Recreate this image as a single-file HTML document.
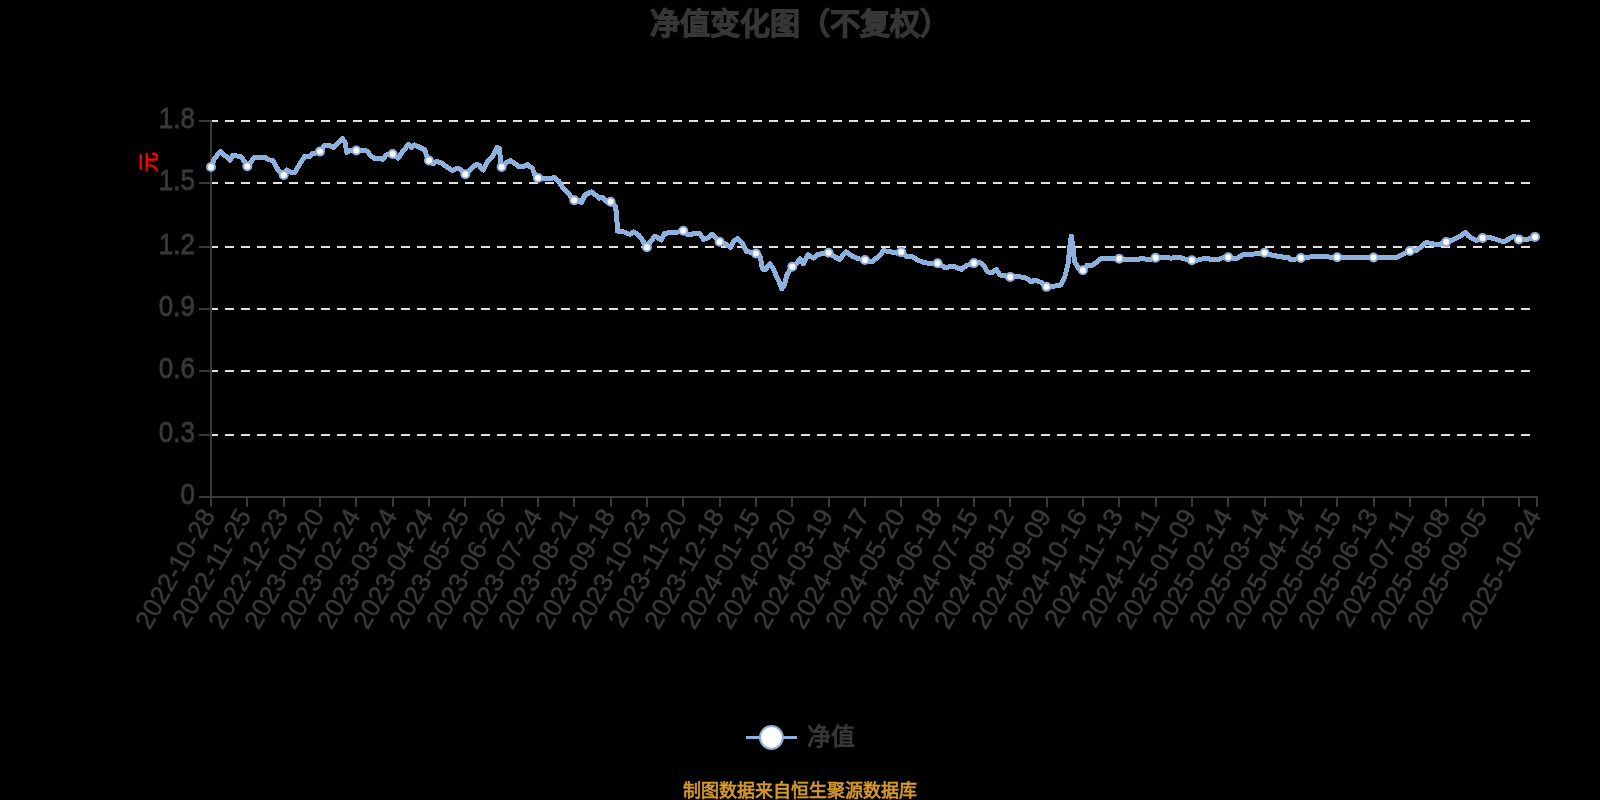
<!DOCTYPE html>
<html lang="zh-CN"><head><meta charset="utf-8"><title>净值变化图</title>
<style>
html,body{margin:0;padding:0;background:#000;}
body{width:1600px;height:800px;overflow:hidden;font-family:"Liberation Sans",sans-serif;}
svg{display:block;font-family:"Liberation Sans",sans-serif;will-change:transform;}
</style></head><body>
<svg width="1600" height="800" viewBox="0 0 1600 800">
<line x1="209" y1="121" x2="1531" y2="121" stroke="#e0e0e0" stroke-width="2" stroke-dasharray="9 7"/>
<line x1="209" y1="183" x2="1531" y2="183" stroke="#e0e0e0" stroke-width="2" stroke-dasharray="9 7"/>
<line x1="209" y1="247" x2="1531" y2="247" stroke="#e0e0e0" stroke-width="2" stroke-dasharray="9 7"/>
<line x1="209" y1="309" x2="1531" y2="309" stroke="#e0e0e0" stroke-width="2" stroke-dasharray="9 7"/>
<line x1="209" y1="371" x2="1531" y2="371" stroke="#e0e0e0" stroke-width="2" stroke-dasharray="9 7"/>
<line x1="209" y1="435" x2="1531" y2="435" stroke="#e0e0e0" stroke-width="2" stroke-dasharray="9 7"/>
<line x1="211" y1="120" x2="211" y2="498" stroke="#393939" stroke-width="2"/>
<line x1="199" y1="121" x2="211" y2="121" stroke="#393939" stroke-width="2"/>
<line x1="199" y1="183" x2="211" y2="183" stroke="#393939" stroke-width="2"/>
<line x1="199" y1="247" x2="211" y2="247" stroke="#393939" stroke-width="2"/>
<line x1="199" y1="309" x2="211" y2="309" stroke="#393939" stroke-width="2"/>
<line x1="199" y1="371" x2="211" y2="371" stroke="#393939" stroke-width="2"/>
<line x1="199" y1="435" x2="211" y2="435" stroke="#393939" stroke-width="2"/>
<line x1="199" y1="497" x2="211" y2="497" stroke="#393939" stroke-width="2"/>
<line x1="199" y1="497" x2="1538" y2="497" stroke="#393939" stroke-width="2"/>
<line x1="211" y1="496" x2="211" y2="507" stroke="#393939" stroke-width="2"/>
<line x1="247" y1="496" x2="247" y2="507" stroke="#393939" stroke-width="2"/>
<line x1="284" y1="496" x2="284" y2="507" stroke="#393939" stroke-width="2"/>
<line x1="320" y1="496" x2="320" y2="507" stroke="#393939" stroke-width="2"/>
<line x1="356" y1="496" x2="356" y2="507" stroke="#393939" stroke-width="2"/>
<line x1="393" y1="496" x2="393" y2="507" stroke="#393939" stroke-width="2"/>
<line x1="429" y1="496" x2="429" y2="507" stroke="#393939" stroke-width="2"/>
<line x1="465" y1="496" x2="465" y2="507" stroke="#393939" stroke-width="2"/>
<line x1="502" y1="496" x2="502" y2="507" stroke="#393939" stroke-width="2"/>
<line x1="538" y1="496" x2="538" y2="507" stroke="#393939" stroke-width="2"/>
<line x1="574" y1="496" x2="574" y2="507" stroke="#393939" stroke-width="2"/>
<line x1="611" y1="496" x2="611" y2="507" stroke="#393939" stroke-width="2"/>
<line x1="647" y1="496" x2="647" y2="507" stroke="#393939" stroke-width="2"/>
<line x1="683" y1="496" x2="683" y2="507" stroke="#393939" stroke-width="2"/>
<line x1="720" y1="496" x2="720" y2="507" stroke="#393939" stroke-width="2"/>
<line x1="756" y1="496" x2="756" y2="507" stroke="#393939" stroke-width="2"/>
<line x1="792" y1="496" x2="792" y2="507" stroke="#393939" stroke-width="2"/>
<line x1="829" y1="496" x2="829" y2="507" stroke="#393939" stroke-width="2"/>
<line x1="865" y1="496" x2="865" y2="507" stroke="#393939" stroke-width="2"/>
<line x1="901" y1="496" x2="901" y2="507" stroke="#393939" stroke-width="2"/>
<line x1="938" y1="496" x2="938" y2="507" stroke="#393939" stroke-width="2"/>
<line x1="974" y1="496" x2="974" y2="507" stroke="#393939" stroke-width="2"/>
<line x1="1010" y1="496" x2="1010" y2="507" stroke="#393939" stroke-width="2"/>
<line x1="1047" y1="496" x2="1047" y2="507" stroke="#393939" stroke-width="2"/>
<line x1="1083" y1="496" x2="1083" y2="507" stroke="#393939" stroke-width="2"/>
<line x1="1119" y1="496" x2="1119" y2="507" stroke="#393939" stroke-width="2"/>
<line x1="1156" y1="496" x2="1156" y2="507" stroke="#393939" stroke-width="2"/>
<line x1="1192" y1="496" x2="1192" y2="507" stroke="#393939" stroke-width="2"/>
<line x1="1228" y1="496" x2="1228" y2="507" stroke="#393939" stroke-width="2"/>
<line x1="1265" y1="496" x2="1265" y2="507" stroke="#393939" stroke-width="2"/>
<line x1="1301" y1="496" x2="1301" y2="507" stroke="#393939" stroke-width="2"/>
<line x1="1337" y1="496" x2="1337" y2="507" stroke="#393939" stroke-width="2"/>
<line x1="1374" y1="496" x2="1374" y2="507" stroke="#393939" stroke-width="2"/>
<line x1="1410" y1="496" x2="1410" y2="507" stroke="#393939" stroke-width="2"/>
<line x1="1446" y1="496" x2="1446" y2="507" stroke="#393939" stroke-width="2"/>
<line x1="1483" y1="496" x2="1483" y2="507" stroke="#393939" stroke-width="2"/>
<line x1="1519" y1="496" x2="1519" y2="507" stroke="#393939" stroke-width="2"/>
<line x1="1537" y1="496" x2="1537" y2="507" stroke="#393939" stroke-width="2"/>
<text x="0" y="0" text-anchor="end" dominant-baseline="central" font-size="26" fill="#393939" stroke="#393939" stroke-width="0.7" transform="translate(195,118.0) scale(1,1.13)">1.8</text>
<text x="0" y="0" text-anchor="end" dominant-baseline="central" font-size="26" fill="#393939" stroke="#393939" stroke-width="0.7" transform="translate(195,180.0) scale(1,1.13)">1.5</text>
<text x="0" y="0" text-anchor="end" dominant-baseline="central" font-size="26" fill="#393939" stroke="#393939" stroke-width="0.7" transform="translate(195,244.0) scale(1,1.13)">1.2</text>
<text x="0" y="0" text-anchor="end" dominant-baseline="central" font-size="26" fill="#393939" stroke="#393939" stroke-width="0.7" transform="translate(195,306.0) scale(1,1.13)">0.9</text>
<text x="0" y="0" text-anchor="end" dominant-baseline="central" font-size="26" fill="#393939" stroke="#393939" stroke-width="0.7" transform="translate(195,368.0) scale(1,1.13)">0.6</text>
<text x="0" y="0" text-anchor="end" dominant-baseline="central" font-size="26" fill="#393939" stroke="#393939" stroke-width="0.7" transform="translate(195,432.0) scale(1,1.13)">0.3</text>
<text x="0" y="0" text-anchor="end" dominant-baseline="central" font-size="26" fill="#393939" stroke="#393939" stroke-width="0.7" transform="translate(195,494.0) scale(1,1.13)">0</text>
<text x="0" y="0" text-anchor="end" dominant-baseline="central" font-size="26" fill="#393939" stroke="#393939" stroke-width="0.5" transform="translate(208.30,511) rotate(-60)">2022-10-28</text>
<text x="0" y="0" text-anchor="end" dominant-baseline="central" font-size="26" fill="#393939" stroke="#393939" stroke-width="0.5" transform="translate(244.30,511) rotate(-60)">2022-11-25</text>
<text x="0" y="0" text-anchor="end" dominant-baseline="central" font-size="26" fill="#393939" stroke="#393939" stroke-width="0.5" transform="translate(281.30,511) rotate(-60)">2022-12-23</text>
<text x="0" y="0" text-anchor="end" dominant-baseline="central" font-size="26" fill="#393939" stroke="#393939" stroke-width="0.5" transform="translate(317.30,511) rotate(-60)">2023-01-20</text>
<text x="0" y="0" text-anchor="end" dominant-baseline="central" font-size="26" fill="#393939" stroke="#393939" stroke-width="0.5" transform="translate(353.30,511) rotate(-60)">2023-02-24</text>
<text x="0" y="0" text-anchor="end" dominant-baseline="central" font-size="26" fill="#393939" stroke="#393939" stroke-width="0.5" transform="translate(390.30,511) rotate(-60)">2023-03-24</text>
<text x="0" y="0" text-anchor="end" dominant-baseline="central" font-size="26" fill="#393939" stroke="#393939" stroke-width="0.5" transform="translate(426.30,511) rotate(-60)">2023-04-24</text>
<text x="0" y="0" text-anchor="end" dominant-baseline="central" font-size="26" fill="#393939" stroke="#393939" stroke-width="0.5" transform="translate(462.30,511) rotate(-60)">2023-05-25</text>
<text x="0" y="0" text-anchor="end" dominant-baseline="central" font-size="26" fill="#393939" stroke="#393939" stroke-width="0.5" transform="translate(499.30,511) rotate(-60)">2023-06-26</text>
<text x="0" y="0" text-anchor="end" dominant-baseline="central" font-size="26" fill="#393939" stroke="#393939" stroke-width="0.5" transform="translate(535.30,511) rotate(-60)">2023-07-24</text>
<text x="0" y="0" text-anchor="end" dominant-baseline="central" font-size="26" fill="#393939" stroke="#393939" stroke-width="0.5" transform="translate(571.30,511) rotate(-60)">2023-08-21</text>
<text x="0" y="0" text-anchor="end" dominant-baseline="central" font-size="26" fill="#393939" stroke="#393939" stroke-width="0.5" transform="translate(608.30,511) rotate(-60)">2023-09-18</text>
<text x="0" y="0" text-anchor="end" dominant-baseline="central" font-size="26" fill="#393939" stroke="#393939" stroke-width="0.5" transform="translate(644.30,511) rotate(-60)">2023-10-23</text>
<text x="0" y="0" text-anchor="end" dominant-baseline="central" font-size="26" fill="#393939" stroke="#393939" stroke-width="0.5" transform="translate(680.30,511) rotate(-60)">2023-11-20</text>
<text x="0" y="0" text-anchor="end" dominant-baseline="central" font-size="26" fill="#393939" stroke="#393939" stroke-width="0.5" transform="translate(717.30,511) rotate(-60)">2023-12-18</text>
<text x="0" y="0" text-anchor="end" dominant-baseline="central" font-size="26" fill="#393939" stroke="#393939" stroke-width="0.5" transform="translate(753.30,511) rotate(-60)">2024-01-15</text>
<text x="0" y="0" text-anchor="end" dominant-baseline="central" font-size="26" fill="#393939" stroke="#393939" stroke-width="0.5" transform="translate(789.30,511) rotate(-60)">2024-02-20</text>
<text x="0" y="0" text-anchor="end" dominant-baseline="central" font-size="26" fill="#393939" stroke="#393939" stroke-width="0.5" transform="translate(826.30,511) rotate(-60)">2024-03-19</text>
<text x="0" y="0" text-anchor="end" dominant-baseline="central" font-size="26" fill="#393939" stroke="#393939" stroke-width="0.5" transform="translate(862.30,511) rotate(-60)">2024-04-17</text>
<text x="0" y="0" text-anchor="end" dominant-baseline="central" font-size="26" fill="#393939" stroke="#393939" stroke-width="0.5" transform="translate(898.30,511) rotate(-60)">2024-05-20</text>
<text x="0" y="0" text-anchor="end" dominant-baseline="central" font-size="26" fill="#393939" stroke="#393939" stroke-width="0.5" transform="translate(935.30,511) rotate(-60)">2024-06-18</text>
<text x="0" y="0" text-anchor="end" dominant-baseline="central" font-size="26" fill="#393939" stroke="#393939" stroke-width="0.5" transform="translate(971.30,511) rotate(-60)">2024-07-15</text>
<text x="0" y="0" text-anchor="end" dominant-baseline="central" font-size="26" fill="#393939" stroke="#393939" stroke-width="0.5" transform="translate(1007.30,511) rotate(-60)">2024-08-12</text>
<text x="0" y="0" text-anchor="end" dominant-baseline="central" font-size="26" fill="#393939" stroke="#393939" stroke-width="0.5" transform="translate(1044.30,511) rotate(-60)">2024-09-09</text>
<text x="0" y="0" text-anchor="end" dominant-baseline="central" font-size="26" fill="#393939" stroke="#393939" stroke-width="0.5" transform="translate(1080.30,511) rotate(-60)">2024-10-16</text>
<text x="0" y="0" text-anchor="end" dominant-baseline="central" font-size="26" fill="#393939" stroke="#393939" stroke-width="0.5" transform="translate(1116.30,511) rotate(-60)">2024-11-13</text>
<text x="0" y="0" text-anchor="end" dominant-baseline="central" font-size="26" fill="#393939" stroke="#393939" stroke-width="0.5" transform="translate(1153.30,511) rotate(-60)">2024-12-11</text>
<text x="0" y="0" text-anchor="end" dominant-baseline="central" font-size="26" fill="#393939" stroke="#393939" stroke-width="0.5" transform="translate(1189.30,511) rotate(-60)">2025-01-09</text>
<text x="0" y="0" text-anchor="end" dominant-baseline="central" font-size="26" fill="#393939" stroke="#393939" stroke-width="0.5" transform="translate(1225.30,511) rotate(-60)">2025-02-14</text>
<text x="0" y="0" text-anchor="end" dominant-baseline="central" font-size="26" fill="#393939" stroke="#393939" stroke-width="0.5" transform="translate(1262.30,511) rotate(-60)">2025-03-14</text>
<text x="0" y="0" text-anchor="end" dominant-baseline="central" font-size="26" fill="#393939" stroke="#393939" stroke-width="0.5" transform="translate(1298.30,511) rotate(-60)">2025-04-14</text>
<text x="0" y="0" text-anchor="end" dominant-baseline="central" font-size="26" fill="#393939" stroke="#393939" stroke-width="0.5" transform="translate(1334.30,511) rotate(-60)">2025-05-15</text>
<text x="0" y="0" text-anchor="end" dominant-baseline="central" font-size="26" fill="#393939" stroke="#393939" stroke-width="0.5" transform="translate(1371.30,511) rotate(-60)">2025-06-13</text>
<text x="0" y="0" text-anchor="end" dominant-baseline="central" font-size="26" fill="#393939" stroke="#393939" stroke-width="0.5" transform="translate(1407.30,511) rotate(-60)">2025-07-11</text>
<text x="0" y="0" text-anchor="end" dominant-baseline="central" font-size="26" fill="#393939" stroke="#393939" stroke-width="0.5" transform="translate(1443.30,511) rotate(-60)">2025-08-08</text>
<text x="0" y="0" text-anchor="end" dominant-baseline="central" font-size="26" fill="#393939" stroke="#393939" stroke-width="0.5" transform="translate(1480.30,511) rotate(-60)">2025-09-05</text>
<text x="0" y="0" text-anchor="end" dominant-baseline="central" font-size="26" fill="#393939" stroke="#393939" stroke-width="0.5" transform="translate(1534.30,511) rotate(-60)">2025-10-24</text>
<text x="0" y="0" text-anchor="middle" dominant-baseline="central" font-size="20" fill="#ff0000" stroke="#ff0000" stroke-width="0.8" transform="translate(149,161.5) rotate(-90)">元</text>
<polyline points="210.60,168.00 214.40,158.75 220.25,151.50 225.00,155.60 230.00,160.00 233.00,155.00 238.00,156.25 241.25,157.00 245.00,162.50 247.25,166.25 254.40,157.50 260.00,157.00 265.00,157.25 268.75,159.75 273.00,160.60 278.75,171.25 283.50,175.25 286.90,170.00 291.25,172.50 295.00,172.25 300.00,163.75 305.00,156.25 308.75,156.90 312.50,153.75 319.75,151.90 325.00,145.00 328.75,145.00 333.75,147.50 337.50,143.75 342.50,138.75 345.00,142.50 346.90,152.50 350.00,150.00 356.00,150.60 361.25,150.00 367.50,151.25 370.00,155.00 373.75,158.10 380.00,158.10 382.50,159.40 386.25,155.00 392.25,153.75 398.10,158.10 403.75,150.00 408.75,144.40 411.90,147.50 414.40,145.00 418.75,146.90 425.00,150.00 426.25,155.00 428.75,160.40 433.10,163.75 436.90,161.25 441.90,163.10 447.50,167.50 452.50,170.60 457.50,168.10 460.60,169.40 465.00,174.40 470.00,170.00 476.25,164.40 478.75,165.00 483.10,170.00 487.50,161.25 492.50,156.25 496.90,147.50 499.40,148.75 500.60,161.25 501.50,167.10 506.25,162.50 510.60,160.60 515.00,163.75 519.40,166.90 523.10,166.90 527.50,164.40 532.50,168.75 535.00,175.00 537.90,177.90 543.75,178.10 550.00,178.75 554.40,177.50 558.75,181.25 562.50,187.50 567.50,192.50 574.00,200.25 577.50,200.00 581.25,202.50 585.00,195.00 591.25,191.90 596.25,195.60 598.75,198.10 602.50,197.50 606.25,201.25 610.40,201.50 615.60,206.25 616.90,220.00 617.50,231.25 623.75,231.90 630.00,234.40 633.75,231.90 638.75,235.00 643.10,241.25 646.60,247.75 650.60,241.25 655.00,236.25 661.25,240.00 664.40,233.75 670.00,232.50 676.25,232.50 683.10,230.60 688.10,235.00 693.75,233.75 700.00,233.75 703.75,239.40 707.50,238.10 711.90,234.40 715.60,237.50 719.10,241.50 725.00,243.75 730.60,247.50 733.75,241.25 737.50,238.50 742.50,243.75 746.25,251.25 756.00,253.50 760.00,256.00 762.50,268.75 765.00,270.00 770.00,263.75 773.75,270.00 778.75,281.25 781.90,288.75 784.40,285.00 786.90,275.00 791.90,266.90 796.25,263.75 800.00,258.75 803.10,263.75 808.10,255.00 813.75,258.10 817.50,254.40 822.50,253.75 828.10,252.50 833.75,256.25 839.40,259.40 846.25,251.90 852.50,256.25 858.75,258.75 865.00,260.00 871.90,261.90 878.75,256.25 883.75,250.60 891.25,251.90 896.25,253.10 901.00,251.90 906.25,256.25 912.50,256.90 917.50,260.00 923.75,262.50 931.25,263.75 937.25,263.10 945.00,267.50 953.75,266.25 961.25,269.40 966.25,265.60 973.75,263.10 980.00,262.50 983.75,265.60 987.50,271.90 992.50,272.50 996.25,269.40 1000.00,275.00 1010.00,276.90 1017.50,276.25 1026.25,278.10 1031.25,281.90 1035.00,280.00 1041.25,282.50 1046.25,286.90 1053.75,286.25 1060.60,285.00 1065.00,276.25 1068.10,263.75 1069.75,247.50 1071.25,236.00 1073.10,247.50 1074.40,261.25 1078.75,268.75 1082.50,270.60 1087.50,265.00 1092.50,265.00 1096.25,262.50 1100.60,258.75 1107.50,258.75 1118.75,258.75 1125.00,259.40 1132.50,260.00 1141.25,258.75 1150.00,259.40 1155.25,257.75 1162.50,257.50 1171.25,258.10 1178.75,257.25 1183.75,258.75 1191.60,260.25 1198.75,260.00 1205.00,258.10 1211.25,259.40 1217.50,260.00 1221.25,258.10 1228.10,257.25 1236.25,258.75 1242.50,255.00 1250.00,254.40 1256.25,253.75 1264.40,252.75 1271.25,255.00 1281.25,256.90 1288.75,257.50 1291.25,260.00 1300.60,258.10 1311.25,256.90 1325.00,256.90 1336.90,257.25 1350.00,257.25 1373.50,257.50 1396.25,257.50 1402.50,254.40 1409.60,251.00 1416.25,250.60 1426.25,242.50 1432.50,243.75 1437.50,245.00 1446.00,242.10 1452.50,240.00 1460.00,236.25 1465.25,232.50 1468.75,236.25 1476.25,240.60 1482.25,238.10 1490.00,237.50 1496.25,239.40 1503.75,241.90 1513.75,236.25 1518.75,239.40 1525.00,240.00 1535.00,236.90" fill="none" stroke="#8eb0dc" stroke-width="5" stroke-linejoin="round" stroke-linecap="round" shape-rendering="crispEdges"/>
<circle cx="211.00" cy="167.03" r="4" fill="#fff" stroke="#8eb0dc" stroke-width="2"/>
<circle cx="247.33" cy="166.15" r="4" fill="#fff" stroke="#8eb0dc" stroke-width="2"/>
<circle cx="283.66" cy="175.01" r="4" fill="#fff" stroke="#8eb0dc" stroke-width="2"/>
<circle cx="319.99" cy="151.59" r="4" fill="#fff" stroke="#8eb0dc" stroke-width="2"/>
<circle cx="356.32" cy="150.56" r="4" fill="#fff" stroke="#8eb0dc" stroke-width="2"/>
<circle cx="392.64" cy="154.04" r="4" fill="#fff" stroke="#8eb0dc" stroke-width="2"/>
<circle cx="428.97" cy="160.57" r="4" fill="#fff" stroke="#8eb0dc" stroke-width="2"/>
<circle cx="465.30" cy="174.13" r="4" fill="#fff" stroke="#8eb0dc" stroke-width="2"/>
<circle cx="501.63" cy="166.97" r="4" fill="#fff" stroke="#8eb0dc" stroke-width="2"/>
<circle cx="537.96" cy="177.90" r="4" fill="#fff" stroke="#8eb0dc" stroke-width="2"/>
<circle cx="574.29" cy="200.23" r="4" fill="#fff" stroke="#8eb0dc" stroke-width="2"/>
<circle cx="610.62" cy="201.70" r="4" fill="#fff" stroke="#8eb0dc" stroke-width="2"/>
<circle cx="646.95" cy="247.19" r="4" fill="#fff" stroke="#8eb0dc" stroke-width="2"/>
<circle cx="683.27" cy="230.75" r="4" fill="#fff" stroke="#8eb0dc" stroke-width="2"/>
<circle cx="719.60" cy="241.69" r="4" fill="#fff" stroke="#8eb0dc" stroke-width="2"/>
<circle cx="755.93" cy="253.48" r="4" fill="#fff" stroke="#8eb0dc" stroke-width="2"/>
<circle cx="792.26" cy="266.64" r="4" fill="#fff" stroke="#8eb0dc" stroke-width="2"/>
<circle cx="828.59" cy="252.82" r="4" fill="#fff" stroke="#8eb0dc" stroke-width="2"/>
<circle cx="864.92" cy="259.98" r="4" fill="#fff" stroke="#8eb0dc" stroke-width="2"/>
<circle cx="901.25" cy="252.10" r="4" fill="#fff" stroke="#8eb0dc" stroke-width="2"/>
<circle cx="937.58" cy="263.28" r="4" fill="#fff" stroke="#8eb0dc" stroke-width="2"/>
<circle cx="973.90" cy="263.09" r="4" fill="#fff" stroke="#8eb0dc" stroke-width="2"/>
<circle cx="1010.23" cy="276.88" r="4" fill="#fff" stroke="#8eb0dc" stroke-width="2"/>
<circle cx="1046.56" cy="286.87" r="4" fill="#fff" stroke="#8eb0dc" stroke-width="2"/>
<circle cx="1082.89" cy="270.16" r="4" fill="#fff" stroke="#8eb0dc" stroke-width="2"/>
<circle cx="1119.22" cy="258.80" r="4" fill="#fff" stroke="#8eb0dc" stroke-width="2"/>
<circle cx="1155.55" cy="257.74" r="4" fill="#fff" stroke="#8eb0dc" stroke-width="2"/>
<circle cx="1191.88" cy="260.24" r="4" fill="#fff" stroke="#8eb0dc" stroke-width="2"/>
<circle cx="1228.21" cy="257.27" r="4" fill="#fff" stroke="#8eb0dc" stroke-width="2"/>
<circle cx="1264.53" cy="252.79" r="4" fill="#fff" stroke="#8eb0dc" stroke-width="2"/>
<circle cx="1300.86" cy="258.07" r="4" fill="#fff" stroke="#8eb0dc" stroke-width="2"/>
<circle cx="1337.19" cy="257.25" r="4" fill="#fff" stroke="#8eb0dc" stroke-width="2"/>
<circle cx="1373.52" cy="257.50" r="4" fill="#fff" stroke="#8eb0dc" stroke-width="2"/>
<circle cx="1409.85" cy="250.99" r="4" fill="#fff" stroke="#8eb0dc" stroke-width="2"/>
<circle cx="1446.18" cy="242.04" r="4" fill="#fff" stroke="#8eb0dc" stroke-width="2"/>
<circle cx="1482.51" cy="238.08" r="4" fill="#fff" stroke="#8eb0dc" stroke-width="2"/>
<circle cx="1518.84" cy="239.41" r="4" fill="#fff" stroke="#8eb0dc" stroke-width="2"/>
<circle cx="1535.00" cy="236.90" r="4" fill="#fff" stroke="#8eb0dc" stroke-width="2"/>
<text x="800" y="23" text-anchor="middle" dominant-baseline="central" font-size="30" fill="#363636" stroke="#363636" stroke-width="2.1">净值变化图（不复权）</text>
<line x1="746" y1="737.5" x2="797" y2="737.5" stroke="#8eb0dc" stroke-width="3"/>
<circle cx="771.4" cy="737.5" r="11.4" fill="#fff" stroke="#8eb0dc" stroke-width="2"/>
<text x="807" y="736.5" dominant-baseline="central" font-size="24" fill="#393939" stroke="#393939" stroke-width="0.9">净值</text>
<text x="800" y="790.5" text-anchor="middle" dominant-baseline="central" font-size="18" fill="#d89a2a" stroke="#d89a2a" stroke-width="0.7">制图数据来自恒生聚源数据库</text>
</svg>
</body></html>
